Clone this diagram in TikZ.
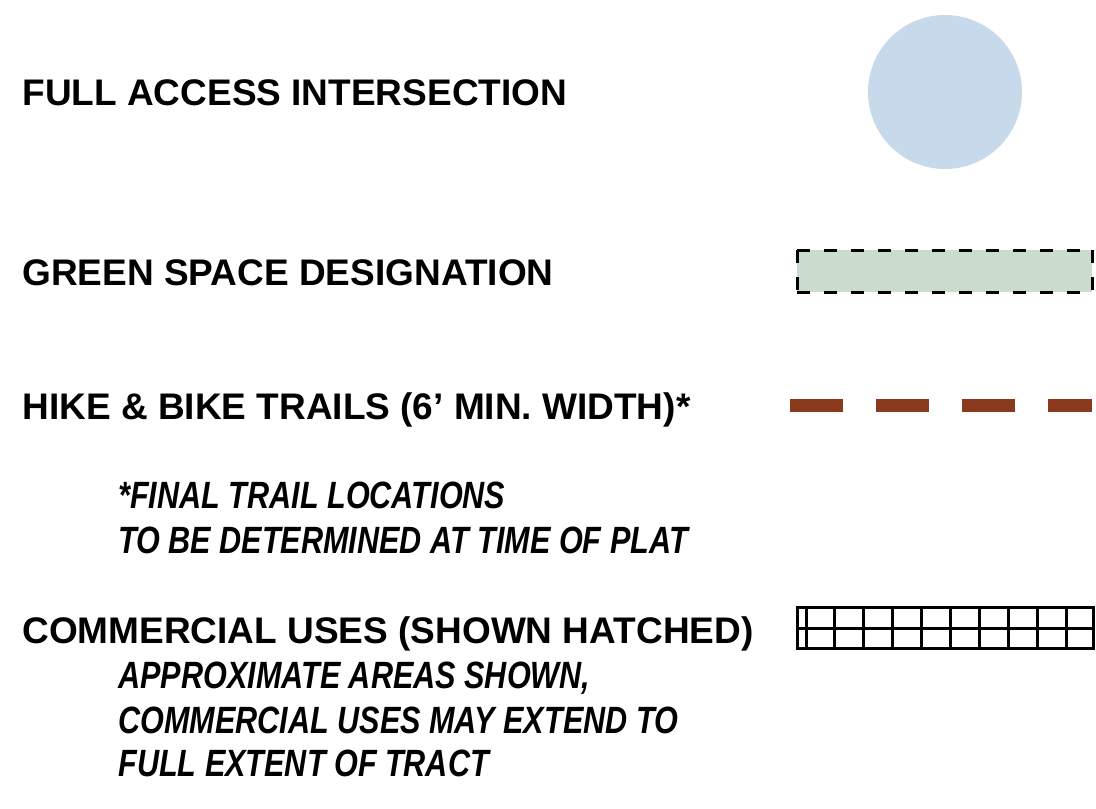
\documentclass[tikz,border=0pt]{standalone}
\usepackage{fontspec}
\setmainfont{Liberation Sans}
\newfontfamily\condfont[FakeStretch=0.805]{Liberation Sans}
\usepackage{tikz}
\definecolor{circleblue}{RGB}{198, 218, 235}
\definecolor{greenspace}{RGB}{202, 220, 206}
\definecolor{trailbrown}{RGB}{139, 58, 30}

\begin{document}
\begin{tikzpicture}[x=0.5pt, y=-0.5pt]

\useasboundingbox (0,0) rectangle (1096,808);

% Legend titles
\tikzset{title/.style={anchor=base west, inner sep=0pt, font=\fontsize{18.5}{22}\selectfont\bfseries}}
\tikzset{note/.style={anchor=base west, inner sep=0pt, font=\fontsize{19}{22}\selectfont\condfont\itshape\bfseries}}
\tikzset{greenedge/.style={draw=black, line width=1.5pt, dash pattern=on 6.5pt off 7pt}}

\node[title] (access) at (22,105) {FULL ACCESS INTERSECTION};
\node[title] (green) at (22,285) {GREEN SPACE DESIGNATION};
\node[title] (trails) at (22,419) {HIKE \& BIKE TRAILS (6’ MIN. WIDTH)*};
\node[title] (commercial) at (22,643) {COMMERCIAL USES (SHOWN HATCHED)};

% Notes
\node[note] (trailnote1) at (118,508) {*FINAL TRAIL LOCATIONS};
\node[note] (trailnote2) at (118,553) {TO BE DETERMINED AT TIME OF PLAT};
\node[note] (comnote1) at (118,688) {APPROXIMATE AREAS SHOWN,};
\node[note] (comnote2) at (118,733) {COMMERCIAL USES MAY EXTEND TO};
\node[note] (comnote3) at (118,776) {FULL EXTENT OF TRACT};

% Intersection symbol
\fill[circleblue] (945,92) circle (77);

% Green space symbol
\fill[greenspace] (797,250) rectangle (1092,292);
\draw[greenedge] (797,250) -- (1092,250);
\draw[greenedge] (797,292) -- (1092,292);
\draw[greenedge] (797,250) -- (797,292);
\draw[greenedge] (1092,250) -- (1092,292);

% Trail symbol
\draw[trailbrown, line width=6.5pt, dash pattern=on 26.5pt off 16.5pt] (790,405) -- (1092,405);

% Hatched commercial symbol
\draw[line width=1.5pt] (797,607) rectangle (1093,648);
\draw[line width=1.5pt] (797,628) -- (1093,628);
\draw[line width=1.5pt] (806,607) -- (806,648);
\foreach \x in {834,863,892,921,950,979,1008,1037,1066}
  \draw[line width=1.5pt] (\x,607) -- (\x,648);

\end{tikzpicture}
\end{document}
